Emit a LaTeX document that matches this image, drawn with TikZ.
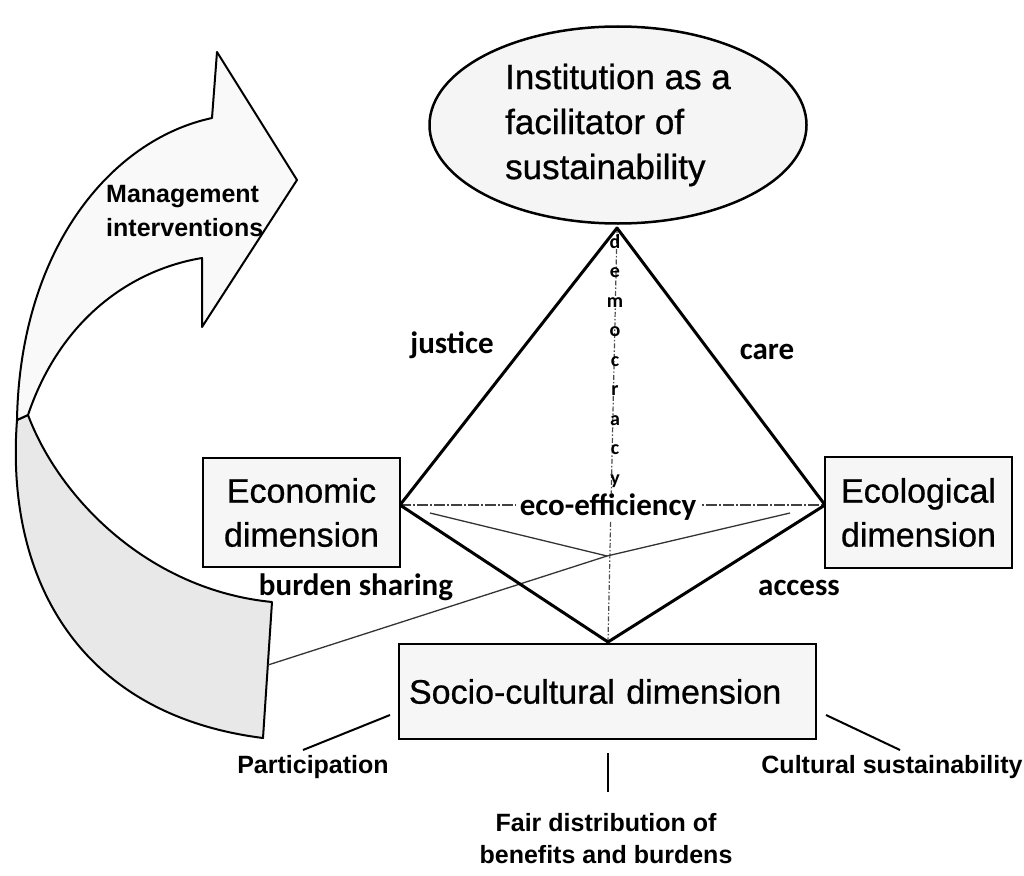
\documentclass[tikz,border=0pt]{standalone}
\usepackage{fontspec}
\setmainfont{Liberation Sans}
\newfontfamily\heavy[FakeBold=0.7]{Liberation Sans}
\newfontfamily\carl{Carlito}
\usetikzlibrary{shapes.geometric}
\begin{document}
\begin{tikzpicture}[x=1pt,y=-1pt,
  dimbox/.style={draw, line width=2.5pt, fill=gray!7, inner sep=0pt, align=center, font=\heavy\fontsize{34}{44}\selectfont},
  edgeline/.style={line width=3pt, line cap=round, line join=round},
  thinline/.style={line width=1.3pt, black!80},
  dashline/.style={line width=1.4pt, black!75, dash pattern=on 11pt off 2pt on 2pt off 2pt},
  lbl/.style={font=\carl\bfseries\fontsize{31}{36}\selectfont, inner sep=1pt},
  sublbl/.style={font=\bfseries\fontsize{25}{32}\selectfont, align=center, inner sep=0pt},
  leader/.style={line width=2pt}
]
\useasboundingbox (0,0) rectangle (1024,875);

% curved arrow
\path[draw, line width=2pt, line join=round, fill=gray!18]
  (17,420) .. controls (5,580) and (80,715) .. (263,738)
  -- (272,602) .. controls (150,590) and (60,500) .. (28,415) -- cycle;
\path[draw, line width=2pt, line join=round, fill=gray!5]
  (212,118) .. controls (110,140) and (20,250) .. (17,420)
  -- (28,415) .. controls (60,320) and (130,270) .. (202,258)
  -- (202,327) -- (297,180) -- (217,52) -- cycle;
\node[font=\bfseries\fontsize{25}{34}\selectfont, align=left, anchor=west, inner sep=0pt] (mgmt) at (106,211) {Management\\interventions};

% vertices
\coordinate (apex) at (617,228);
\coordinate (L) at (400,505);
\coordinate (R) at (825,505);
\coordinate (B) at (608,642);
\coordinate (C) at (607,556);
\coordinate (Lin) at (430,513);
\coordinate (Rin) at (790,513);
\coordinate (A) at (268,665);

% inner lines
\draw[line width=1.2pt, black!70, dash pattern=on 5pt off 2pt on 1.5pt off 2pt] (apex) -- (B);
\draw[dashline] (L) -- (R);
\draw[thinline] (Lin) -- (C);
\draw[thinline] (Rin) -- (C) -- (A);

% tetrahedron edges
\draw[edgeline] (L) -- (apex) -- (R) -- (B) -- cycle;

% nodes
\node[ellipse, draw, line width=2.5pt, fill=gray!8, minimum width=377pt, minimum height=197pt, inner sep=0pt, align=left, font=\heavy\fontsize{35}{45}\selectfont] (inst) at (618,125) {Institution as a\\facilitator of\\sustainability};
\node[dimbox, minimum width=197pt, minimum height=109pt] (econ) at (301.5,512.5) {Economic\\dimension};
\node[dimbox, minimum width=187pt, minimum height=111pt] (ecol) at (918.5,512.5) {Ecological\\dimension};
\node[dimbox, minimum width=417pt, minimum height=95pt, inner xsep=10pt, text width=397pt, align=left] (soc) at (607.5,691.5) {Socio-cultural dimension};

% edge labels
\node[lbl] (just) at (452,345) {justice};
\node[lbl] (care) at (767,352) {care};
\node[lbl, fill=white, inner xsep=4pt] (eff) at (608,507) {eco-efficiency};
\node[lbl] (burd) at (356,587) {burden sharing};
\node[lbl] (acc) at (799,588) {access};
\node[font=\carl\bfseries\fontsize{20}{29.5}\selectfont, align=center, inner sep=0pt] (dem) at (615,361) {d\\e\\m\\o\\c\\r\\a\\c\\y};

% socio-cultural sub-labels
\node[sublbl] (part) at (313,767) {Participation};
\node[sublbl] (fair) at (606,839) {Fair distribution of\\benefits and burdens};
\node[sublbl] (cult) at (892,767) {Cultural sustainability};
\coordinate (p1) at (390,715); \coordinate (p2) at (303,750);
\coordinate (f1) at (608,753); \coordinate (f2) at (608,792);
\coordinate (c1) at (826,715); \coordinate (c2) at (900,750);
\draw[leader] (p1) -- (p2);
\draw[leader] (f1) -- (f2);
\draw[leader] (c1) -- (c2);
\end{tikzpicture}
\end{document}
